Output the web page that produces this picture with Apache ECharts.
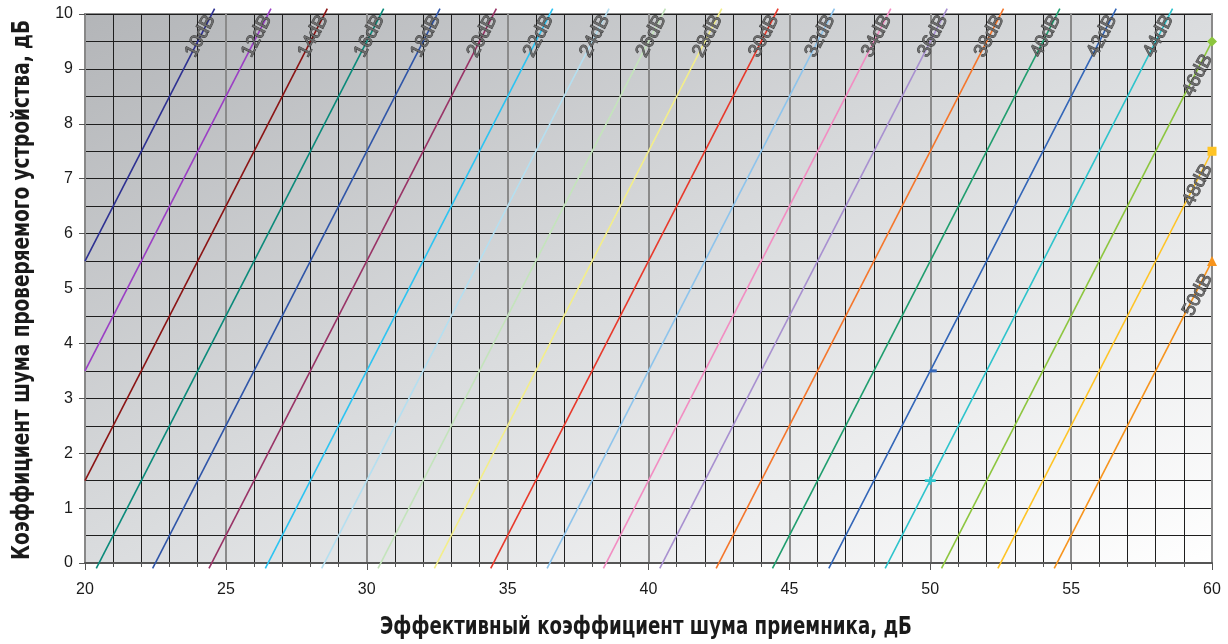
<!DOCTYPE html>
<html>
<head>
<meta charset="utf-8">
<script src="https://cdn.jsdelivr.net/npm/echarts@6/dist/echarts.min.js"></script>
<style>
html,body{margin:0;padding:0;background:#fff;}
#chart{width:1228px;height:644px;}
</style>
</head>
<body>
<div id="chart"></div>
<script>
// ---- data ----
const gains = ['10dB','12dB','14dB','16dB','18dB','20dB','22dB','24dB','26dB','28dB','30dB','32dB','34dB','36dB','38dB','40dB','42dB','44dB','46dB','48dB','50dB'];
const lineStart = [[20,5.5],[20,3.5],[20,1.5],[20.4,-0.1],[22.4,-0.1],[24.4,-0.1],[26.4,-0.1],[28.4,-0.1],[30.4,-0.1],[32.4,-0.1],[34.4,-0.1],[36.4,-0.1],[38.4,-0.1],[40.4,-0.1],[42.4,-0.1],[44.4,-0.1],[46.4,-0.1],[48.4,-0.1],[50.4,-0.1],[52.4,-0.1],[54.4,-0.1]];
const lineEnd = [[24.6,10.1],[26.6,10.1],[28.6,10.1],[30.6,10.1],[32.6,10.1],[34.6,10.1],[36.6,10.1],[38.6,10.1],[40.6,10.1],[42.6,10.1],[44.6,10.1],[46.6,10.1],[48.6,10.1],[50.6,10.1],[52.6,10.1],[54.6,10.1],[56.6,10.1],[58.6,10.1],[60,9.5],[60,7.5],[60,5.5]];
const colors = ['#2e3192','#9b3fc4','#8b1414','#0a8a7a','#2f55a8','#993366','#2cc4f2','#b5dff0','#c4e4bc','#f3ee8a','#e8392b','#8ec4ec','#f28dc2','#a890d0','#f5762b','#1f9e6e','#3366b8','#2ec4cc','#8dc63f','#ffc425','#f7941d'];
// marked points inside the lines
const midGain = ['42dB','44dB'];
const midPoint = [[50,3.5],[50,1.5]];
const midSymbol = ['path://M0,0h8v3h-8z','path://M0,3h10v3h-10z M4,0h2v9h-2z'];
// end markers
const endGain = ['46dB','48dB','50dB'];
const endSymbol = ['diamond','rect','triangle'];
const xTicks = [20,25,30,35,40,45,50,55,60];
const yTicks = [0,1,2,3,4,5,6,7,8,9,10];
const xTitle = 'Эффективный коэффициент шума приемника, дБ';
const yTitle = 'Коэффициент шума проверяемого устройства, дБ';

const chart = echarts.init(document.getElementById('chart'), null, {renderer:'canvas'});

const series = gains.map((g, i) => {
  const pts = [{value: lineStart[i], symbol: 'none'}];
  const mi = midGain.indexOf(g);
  if (mi >= 0) {
    pts.push({value: midPoint[mi], symbol: midSymbol[mi], symbolSize: mi === 0 ? [7,3] : [11,8], symbolOffset: mi === 0 ? [3,0] : [0,0]});
  }
  const ei = endGain.indexOf(g);
  if (ei >= 0) {
    pts.push({value: lineEnd[i], symbol: endSymbol[ei], symbolSize: ei === 1 ? 9 : 10});
  } else {
    pts.push({value: lineEnd[i], symbol: 'none'});
  }
  return {
    name: g,
    type: 'line',
    data: pts,
    showSymbol: true,
    symbol: 'none',
    clip: false,
    silent: true,
    animation: false,
    z: 3,
    lineStyle: {color: colors[i], width: 1.6},
    itemStyle: {color: colors[i], borderWidth: 0}
  };
});

chart.setOption({
  animation: false,
  backgroundColor: '#ffffff',
  grid: {
    left: 85, right: 16, top: 14, bottom: 81,
    containLabel: false,
    outerBoundsMode: 'none',
    show: true,
    borderColor: '#8c8c8c',
    borderWidth: 2,
    backgroundColor: {
      type: 'linear', x: 0, y: 0, x2: 0.383, y2: 1.616,
      colorStops: [
        {offset: 0, color: '#b3b5b8'},
        {offset: 0.5, color: '#dadcde'},
        {offset: 1, color: '#ffffff'}
      ]
    }
  },
  xAxis: {
    type: 'value', min: xTicks[0], max: xTicks[xTicks.length-1], interval: 5,
    axisLine: {show: true, lineStyle: {color: '#555', width: 2}},
    axisTick: {show: true, length: 7, lineStyle: {color: '#555', width: 1}},
    minorTick: {show: true, splitNumber: 5, length: 4, lineStyle: {color: '#555'}},
    axisLabel: {color: '#1a1a1a', fontSize: 16, fontFamily: 'Liberation Sans, Arial, sans-serif', margin: 19},
    splitLine: {show: true, lineStyle: {color: '#8a8a8a', width: 2}},
    minorSplitLine: {show: true, lineStyle: {color: '#1e1e1e', width: 1}}
  },
  yAxis: {
    type: 'value', min: yTicks[0], max: yTicks[yTicks.length-1], interval: 1,
    axisLine: {show: true, lineStyle: {color: '#888', width: 2}},
    axisTick: {show: true, length: 6, lineStyle: {color: '#555', width: 1}},
    minorTick: {show: false, splitNumber: 2},
    axisLabel: {color: '#1a1a1a', fontSize: 16, fontFamily: 'Liberation Sans, Arial, sans-serif', margin: 12},
    splitLine: {show: true, lineStyle: {color: '#1e1e1e', width: 1}},
    minorSplitLine: {show: true, lineStyle: {color: '#1e1e1e', width: 1}}
  },
  series: series
});

// rotated line labels positioned along each line
const graphics = gains.map((g, i) => {
  const ps = chart.convertToPixel({gridIndex: 0}, lineStart[i]);
  const pe = chart.convertToPixel({gridIndex: 0}, lineEnd[i]);
  const dx = ps[0] - pe[0], dy = ps[1] - pe[1];
  const len = Math.sqrt(dx*dx + dy*dy);
  const ux = dx / len, uy = dy / len;
  const angle = Math.atan2(-(pe[1] - ps[1]), pe[0] - ps[0]);
  const atEdge = endGain.indexOf(g) >= 0;
  const d = atEdge ? 38 : 31;
  const shift = atEdge ? 3 : 0;
  return {
    type: 'text',
    x: pe[0] + ux * d + shift,
    y: pe[1] + uy * d,
    rotation: angle,
    z: 10,
    silent: true,
    style: {
      text: g,
      fill: '#6c6c6c',
      stroke: 'rgba(30,30,30,0.85)',
      lineWidth: 0.9,
      font: '19px "Liberation Sans", Arial, sans-serif',
      align: 'center',
      verticalAlign: 'middle'
    }
  };
});

// axis titles: condensed bold, fitted to the reference width
const titleFont = 'bold 25px "DejaVu Sans Condensed", "DejaVu Sans", sans-serif';
const ctx = document.createElement('canvas').getContext('2d');
ctx.font = titleFont;
const xw = ctx.measureText(xTitle).width;
const yw = ctx.measureText(yTitle).width;
graphics.push({
  type: 'text', x: 646, y: 627, scaleX: 532 / xw, z: 10, silent: true,
  style: {text: xTitle, font: titleFont, fill: '#1a1a1a', align: 'center', verticalAlign: 'middle'}
});
graphics.push({
  type: 'group', x: 22, y: 290, rotation: Math.PI / 2, z: 10, silent: true,
  children: [{
    type: 'text', x: 0, y: 0, scaleX: 540 / yw,
    style: {text: yTitle, font: titleFont, fill: '#1a1a1a', align: 'center', verticalAlign: 'middle'}
  }]
});
chart.setOption({graphic: graphics});
</script>
</body>
</html>
